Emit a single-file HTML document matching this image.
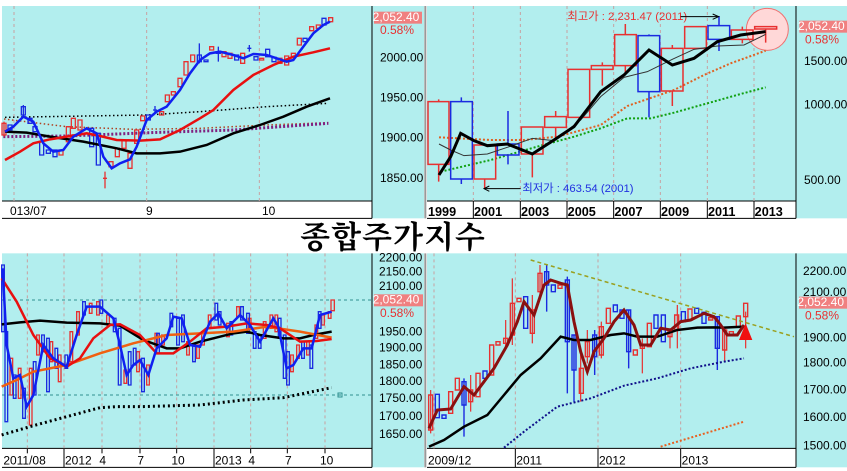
<!DOCTYPE html>
<html><head><meta charset="utf-8"><style>
html,body{margin:0;padding:0;background:#fff;width:847px;height:471px;overflow:hidden}
svg{display:block}
text{font-family:"Liberation Sans",sans-serif}
.ns{vector-effect:non-scaling-stroke;fill:none}
</style></head><body>
<svg width="847" height="471" viewBox="0 0 847 471" xmlns="http://www.w3.org/2000/svg">
<rect width="847" height="471" fill="#fff"/>

<!-- ===== TOP LEFT ===== -->
<g transform="translate(0,0) scale(0.33333)">
<rect x="6" y="18" width="1266" height="637" fill="#b2eeee"/>
<rect x="6" y="603" width="1110" height="52" fill="#fff"/>
<line x1="6" y1="603" x2="1116" y2="603" stroke="#000" class="ns"/>
<line x1="1116" y1="18" x2="1116" y2="655" stroke="#000" class="ns"/>
<line x1="6" y1="655" x2="1116" y2="655" stroke="#000" class="ns"/>
<g stroke="#c8a0a0" stroke-dasharray="3,3" class="ns"><line x1="42" y1="18" x2="42" y2="603" class="ns"/><line x1="440" y1="18" x2="440" y2="603" class="ns"/><line x1="778" y1="18" x2="778" y2="603" class="ns"/></g>
<g font-size="36" fill="#000"><text x="1140" y="184">2000.00</text><text x="1140" y="304">1950.00</text><text x="1140" y="424">1900.00</text><text x="1140" y="546">1850.00</text>
<text x="30" y="645">013/07</text><text x="438" y="645">9</text><text x="786" y="645">10</text></g>
<rect x="1122" y="35" width="144" height="36" fill="#f08080"/>
<text x="1258" y="63" font-size="36" fill="#fff" text-anchor="end">2,052.40</text>
<text x="1242" y="102" font-size="36" fill="#e83030" text-anchor="end">0.58%</text>
<polyline class="ns" stroke="#000" stroke-width="1.5" stroke-dasharray="1.5,2.5" points="15,352 440,345 600,335 800,320 985,310"/>
<polyline class="ns" stroke="#b04020" stroke-width="1.5" stroke-dasharray="1.5,2.5" points="12,357 200,380 400,388 600,385 800,375 985,368"/>
<polyline class="ns" stroke="#802080" stroke-width="3" stroke-dasharray="2,2" points="10,410 200,408 450,398 700,390 985,370"/>
<path class="ns" stroke="#e83030" stroke-width="1.3" fill="#b2eeee" d="M6,370h12v35h-12zM12,365v45M177,450h12v15h-12zM199,380h12v45h-12zM214,355h12v30h-12zM234,360h12v30h-12zM309,535h12M315,515v50M327,485h12v15h-12zM346,445h12v25h-12zM366,420h12v25h-12zM384,460h12v45h-12zM404,390h12v40h-12zM422,348h12v14h-12zM479,335h12v10h-12zM496,285h12v20h-12zM514,275h12v10h-12zM534,235h12v25h-12zM552,185h12v40h-12zM572,165h12v20h-12zM629,140h12v10h-12zM666,155h12v15h-12zM684,160h12v15h-12zM722,160h12v30h-12zM779,175h12v5h-12zM834,175h12v15h-12zM854,168h12v27h-12zM874,160h12v10h-12zM892,115h12v20h-12zM929,80h12v12h-12zM949,75h12v10h-12zM986,53h12v12h-12z"/>
<path class="ns" stroke="#1a2ae0" stroke-width="1.3" fill="#b2eeee" d="M24,375h12v15h-12zM64,320h12v25h-12zM70,315v35M84,355h12v15h-12zM99,380h12v15h-12zM119,425h12v40h-12zM139,450h12v10h-12zM159,450h12v20h-12zM269,385h12v55h-12zM289,400h12v95h-12zM439,345h12v15h-12zM459,330h12M465,318v20M592,165h12v20h-12zM598,130v60M612,180h12v5h-12zM649,155h12v5h-12zM655,140v45M704,165h12v15h-12zM742,145h12M748,135v20M762,170h12v10h-12zM797,148h12v22h-12zM816,172h12v13h-12zM909,115h12v10h-12zM966,55h12v20h-12z"/>
<polyline class="ns" stroke="#000" stroke-width="2.5" points="15,395 80,398 150,410 250,425 350,445 410,460 480,460 540,455 620,435 700,400 780,375 850,350 920,320 990,295"/>
<polyline class="ns" stroke="#e81010" stroke-width="2.5" points="15,480 60,455 100,430 150,418 200,410 260,400 300,408 350,420 420,422 480,418 540,390 600,355 640,330 700,270 760,225 820,195 880,170 940,157 990,145"/>
<polyline class="ns" stroke="#1020f0" stroke-width="2.5" points="15,395 40,380 70,350 100,365 130,430 160,455 190,450 220,410 260,385 290,400 310,470 335,505 360,490 390,478 410,440 440,360 470,335 500,320 540,270 570,220 600,180 630,160 660,155 700,165 730,175 760,162 800,165 830,175 860,185 880,180 910,140 940,100 970,75 990,65"/>
</g>

<!-- ===== TOP RIGHT ===== -->
<g transform="translate(424,0) scale(0.33333)">
<rect x="9" y="18" width="1260" height="637" fill="#b2eeee"/>
<rect x="9" y="603" width="1107" height="52" fill="#fff"/>
<line x1="9" y1="603" x2="1116" y2="603" stroke="#000" class="ns"/>
<line x1="1116" y1="18" x2="1116" y2="655" stroke="#000" class="ns"/>
<line x1="9" y1="655" x2="1116" y2="655" stroke="#000" class="ns"/>
<line x1="4" y1="18" x2="4" y2="655" stroke="#999" class="ns" stroke-width="2"/>
<g stroke="#c8a0a0" stroke-dasharray="3,3"><line class="ns" x1="148" y1="18" x2="148" y2="603"/><line class="ns" x1="289" y1="18" x2="289" y2="603"/><line class="ns" x1="429" y1="18" x2="429" y2="603"/><line class="ns" x1="569" y1="18" x2="569" y2="603"/><line class="ns" x1="709" y1="18" x2="709" y2="603"/><line class="ns" x1="850" y1="18" x2="850" y2="603"/><line class="ns" x1="990" y1="18" x2="990" y2="603"/></g>
<g stroke="#000"><line class="ns" x1="148" y1="603" x2="148" y2="655"/><line class="ns" x1="289" y1="603" x2="289" y2="655"/><line class="ns" x1="429" y1="603" x2="429" y2="655"/><line class="ns" x1="569" y1="603" x2="569" y2="655"/><line class="ns" x1="709" y1="603" x2="709" y2="655"/><line class="ns" x1="850" y1="603" x2="850" y2="655"/><line class="ns" x1="990" y1="603" x2="990" y2="655"/></g>
<g font-size="38" font-weight="bold" fill="#000"><text x="12" y="648">1999</text><text x="150" y="648">2001</text><text x="291" y="648">2003</text><text x="431" y="648">2005</text><text x="571" y="648">2007</text><text x="711" y="648">2009</text><text x="852" y="648">2011</text><text x="992" y="648">2013</text></g>
<g font-size="36" fill="#000"><text x="1140" y="195">1500.00</text><text x="1140" y="326">1000.00</text><text x="1140" y="552">500.00</text></g>
<rect x="1126" y="62" width="143" height="36" fill="#f08080"/>
<text x="1262" y="90" font-size="36" fill="#fff" text-anchor="end">2,052.40</text>
<text x="1245" y="130" font-size="36" fill="#e83030" text-anchor="end">0.58%</text>
<circle cx="1030" cy="88" r="63" fill="#ffd8d8" stroke="#f07070" class="ns" style="fill:#ffd8d8"/>
<polyline class="ns" stroke="#e06020" stroke-width="2" stroke-dasharray="2,2" points="45,412 200,420 300,420 400,410 530,375 610,318 750,270 840,225 920,190 1025,152"/>
<polyline class="ns" stroke="#10a010" stroke-width="2" stroke-dasharray="2,2" points="50,515 200,480 350,437 450,410 530,385 610,355 680,355 750,338 850,310 950,282 1025,262"/>
<path class="ns" stroke="#e83030" stroke-width="1.5" d="M12,305h63v188h-63zM44,298v7M44,493v52M150,435h65v102h-65zM182,537v28M292,381h65v81h-65zM325,462v70M362,350h65v32h-65zM395,333v17M395,382v33M432,208h65v144h-65zM502,197h65v11h-65zM535,187v10M535,208v49M572,104h65v93h-65zM604,72v32M604,197v21M712,145h65v128h-65zM745,135v10M745,273v45M782,80h65v65h-65zM922,90h65v28h-65zM955,80v10M955,118v12M992,80h66v7h-66zM1025,87v41"/>
<path class="ns" stroke="#1a2ae0" stroke-width="1.5" d="M80,305h65v232h-65zM112,292v13M112,537v15M220,432h65v33h-65zM252,333v99M252,465v28M642,107h65v168h-65zM675,103v4M675,275v77M852,77h65v41h-65zM885,48v29M885,118v35"/>
<polyline class="ns" stroke="#333" stroke-width="1" points="45,432 80,450 120,467 190,462 250,442 325,415 390,422 470,360 530,290 600,232 670,215 745,178 810,148 880,138 960,135 1025,103"/>
<polyline class="ns" stroke="#000" stroke-width="3" points="45,525 80,470 110,400 150,422 190,437 250,432 325,462 390,420 450,380 530,275 600,225 675,150 745,195 810,175 880,125 950,105 1025,95"/>
<text x="430" y="60" font-size="34" fill="#e83030" font-family="Liberation Sans, Noto Sans CJK KR, sans-serif">최고가 : 2,231.47 (2011)</text>
<line class="ns" x1="770" y1="50" x2="880" y2="50" stroke="#000"/><path d="M866,42L884,50L866,58" class="ns" stroke="#000"/>
<text x="295" y="576" font-size="34" fill="#2030e0" font-family="Liberation Sans, Noto Sans CJK KR, sans-serif">최저가 : 463.54 (2001)</text>
<line class="ns" x1="290" y1="566" x2="182" y2="566" stroke="#000"/><path d="M196,558L180,566L196,574" class="ns" stroke="#000"/>
</g>

<text x="393" y="248" font-size="31" font-weight="bold" text-anchor="middle" letter-spacing="1" style="font-family:'Noto Serif CJK KR','Noto Serif CJK SC','NanumGothic',serif">종합주가지수</text>

<!-- ===== BOTTOM LEFT ===== -->
<g transform="translate(0,235) scale(0.33333)">
<rect x="6" y="55" width="1266" height="642" fill="#b2eeee"/>
<rect x="6" y="640" width="1110" height="57" fill="#fff"/>
<line x1="6" y1="640" x2="1116" y2="640" stroke="#000" class="ns"/>
<line x1="1116" y1="55" x2="1116" y2="697" stroke="#000" class="ns"/>
<line x1="6" y1="697" x2="1116" y2="697" stroke="#000" class="ns"/>
<g stroke="#c8a0a0" stroke-dasharray="3,3"><line class="ns" x1="82" y1="55" x2="82" y2="640"/><line class="ns" x1="192" y1="55" x2="192" y2="640"/><line class="ns" x1="306" y1="55" x2="306" y2="640"/><line class="ns" x1="420" y1="55" x2="420" y2="640"/><line class="ns" x1="530" y1="55" x2="530" y2="640"/><line class="ns" x1="642" y1="55" x2="642" y2="640"/><line class="ns" x1="752" y1="55" x2="752" y2="640"/><line class="ns" x1="862" y1="55" x2="862" y2="640"/><line class="ns" x1="975" y1="55" x2="975" y2="640"/></g>
<g stroke="#000"><line class="ns" x1="192" y1="640" x2="192" y2="697"/><line class="ns" x1="642" y1="640" x2="642" y2="697"/><line class="ns" x1="82" y1="640" x2="82" y2="655"/><line class="ns" x1="306" y1="640" x2="306" y2="655"/><line class="ns" x1="420" y1="640" x2="420" y2="655"/><line class="ns" x1="530" y1="640" x2="530" y2="655"/><line class="ns" x1="752" y1="640" x2="752" y2="655"/><line class="ns" x1="862" y1="640" x2="862" y2="655"/><line class="ns" x1="975" y1="640" x2="975" y2="655"/></g>
<g font-size="36" fill="#000"><text x="10" y="688">2011/08</text><text x="195" y="688">2012</text><text x="298" y="688">4</text><text x="412" y="688">7</text><text x="514" y="688">10</text><text x="645" y="688">2013</text><text x="745" y="688">4</text><text x="855" y="688">7</text><text x="960" y="688">10</text></g>
<g font-size="36" fill="#000"><text x="1137" y="80">2200.00</text><text x="1137" y="122">2150.00</text><text x="1137" y="165">2100.00</text><text x="1137" y="302">1950.00</text><text x="1137" y="349">1900.00</text><text x="1137" y="400">1850.00</text><text x="1137" y="450">1800.00</text><text x="1137" y="501">1750.00</text><text x="1137" y="555">1700.00</text><text x="1137" y="609">1650.00</text></g>
<rect x="1122" y="178" width="147" height="36" fill="#f08080"/>
<text x="1258" y="206" font-size="36" fill="#fff" text-anchor="end">2,052.40</text>
<text x="1242" y="246" font-size="36" fill="#e83030" text-anchor="end">0.58%</text>
<line class="ns" x1="6" y1="195" x2="1116" y2="195" stroke="#309090" stroke-dasharray="3,3"/>
<line class="ns" x1="6" y1="480" x2="1116" y2="480" stroke="#309090" stroke-dasharray="3,3"/>
<rect x="1014" y="474" width="12" height="12" fill="none" stroke="#309090" class="ns"/>
<path class="ns" stroke="#e83030" stroke-width="1.3" fill="#f0a0a0" d="M30,370h8v110h-8zM55,400h8v90h-8zM88,400h8v170h-8zM110,300h8v60h-8zM150,320h8v60h-8zM175,360h8v80h-8zM210,290h8v90h-8zM230,230h8v70h-8zM268,205h8v30h-8zM290,200h8v40h-8zM320,240h8v30h-8zM372,405h8v40h-8zM410,350h8v60h-8zM440,390h8v60h-8zM465,295h8v40h-8zM485,300h8v30h-8zM560,320h8v40h-8zM590,330h8v40h-8zM605,290h8v40h-8zM625,240h8v40h-8zM680,265h8v40h-8zM710,215h8v30h-8zM745,250h8v30h-8zM790,260h8v50h-8zM810,240h8v40h-8zM825,240h8v50h-8zM872,360h8v50h-8zM890,330h8v40h-8zM920,320h8v40h-8zM945,270h8v40h-8zM965,240h8v30h-8zM985,230h8v20h-8zM993,195h10v32h-10z"/>
<path class="ns" stroke="#1a2ae0" stroke-width="1.3" fill="#8090f0" d="M5,90h8v200h-8zM15,290h8v270h-8zM40,420h8v70h-8zM68,460h8v90h-8zM100,380h8v100h-8zM125,300h8v50h-8zM140,310h8v160h-8zM165,340h8v60h-8zM195,360h8v40h-8zM248,200h8v40h-8zM300,195h8v40h-8zM340,250h8v40h-8zM355,280h8v170h-8zM385,350h8v100h-8zM400,340h8v50h-8zM425,370h8v100h-8zM470,295h8v60h-8zM510,235h8v40h-8zM530,250h8v80h-8zM545,240h8v80h-8zM578,330h8v50h-8zM645,205h8v50h-8zM655,230h8v40h-8zM690,260h8v40h-8zM722,215h8v40h-8zM740,235h8v60h-8zM760,290h8v50h-8zM775,300h8v40h-8zM835,250h8v60h-8zM850,300h8v130h-8zM860,350h8v100h-8zM905,320h8v50h-8zM930,330h8v70h-8zM955,230h8v50h-8z"/>
<polyline class="ns" stroke="#000" stroke-width="3" stroke-dasharray="2,3" points="5,600 100,572 200,545 300,518 350,515 420,515 600,510 730,495 850,488 995,458"/>
<polyline class="ns" stroke="#000" stroke-width="2.5" points="5,268 60,262 120,257 200,263 300,265 360,272 430,315 500,340 540,340 600,320 700,295 740,290 780,300 850,310 900,310 940,300 995,290"/>
<polyline class="ns" stroke="#f06010" stroke-width="2.5" points="5,455 50,435 100,410 200,390 300,355 400,325 500,300 600,295 700,290 800,275 900,290 995,308"/>
<polyline class="ns" stroke="#e81010" stroke-width="2.5" points="5,130 50,200 100,300 150,370 200,395 240,370 280,310 330,270 360,268 420,300 470,355 520,355 570,320 620,280 680,275 740,265 800,270 840,280 900,320 950,318 995,312"/>
<polyline class="ns" stroke="#1020f0" stroke-width="2.5" points="8,100 20,330 40,430 60,420 80,515 100,480 130,330 160,370 200,395 230,300 260,215 300,215 340,250 360,330 380,420 400,390 420,375 445,420 470,340 500,310 520,245 545,250 570,330 600,335 630,260 655,235 680,280 720,240 750,270 780,320 820,250 835,275 860,400 880,390 910,340 935,340 960,240 995,230"/>
</g>

<!-- ===== BOTTOM RIGHT ===== -->
<g transform="translate(424,235) scale(0.33333)">
<rect x="9" y="55" width="1260" height="642" fill="#b2eeee"/>
<rect x="9" y="640" width="1107" height="57" fill="#fff"/>
<line x1="9" y1="640" x2="1116" y2="640" stroke="#000" class="ns"/>
<line x1="1116" y1="55" x2="1116" y2="697" stroke="#000" class="ns"/>
<line x1="9" y1="697" x2="1116" y2="697" stroke="#000" class="ns"/>
<line x1="4" y1="55" x2="4" y2="697" stroke="#999" class="ns" stroke-width="2"/>
<g stroke="#c8a0a0" stroke-dasharray="3,3"><line class="ns" x1="30" y1="55" x2="30" y2="640"/><line class="ns" x1="274" y1="55" x2="274" y2="640"/><line class="ns" x1="522" y1="55" x2="522" y2="640"/><line class="ns" x1="770" y1="55" x2="770" y2="640"/></g>
<g stroke="#000"><line class="ns" x1="274" y1="640" x2="274" y2="697"/><line class="ns" x1="522" y1="640" x2="522" y2="697"/><line class="ns" x1="770" y1="640" x2="770" y2="697"/></g>
<g font-size="36" fill="#000"><text x="12" y="688">2009/12</text><text x="277" y="688">2011</text><text x="525" y="688">2012</text><text x="773" y="688">2013</text></g>
<g font-size="36" fill="#000"><text x="1137" y="120">2200.00</text><text x="1137" y="183">2100.00</text><text x="1137" y="320">1900.00</text><text x="1137" y="395">1800.00</text><text x="1137" y="475">1700.00</text><text x="1137" y="558">1600.00</text><text x="1137" y="643">1500.00</text></g>
<rect x="1125" y="185" width="144" height="36" fill="#f08080"/>
<text x="1260" y="213" font-size="36" fill="#fff" text-anchor="end">2,052.40</text>
<text x="1245" y="253" font-size="36" fill="#e83030" text-anchor="end">0.58%</text>
<path class="ns" stroke="#e83030" stroke-width="1.4" fill="#b2eeee" d="M14,480h12v105h-12zM74,470h12v65h-12zM94,430h12v35h-12zM134,465h12v35h-12zM156,415h12v70h-12zM197,330h12v90h-12zM216,320h12v10h-12zM239,310h12v15h-12zM259,205h12v95h-12zM279,190h12v10h-12zM319,225h12v70h-12zM342,115h12v55h-12zM402,150h12v10h-12zM466,400h12v75h-12zM484,320h12v45h-12zM526,275h12v85h-12zM547,220h12v45h-12zM628,345h12v15h-12zM649,330h12v10h-12zM670,265h12v70h-12zM732,285h12v20h-12zM752,240h12v45h-12zM792,222h12v33h-12zM854,248h12v7h-12zM896,285h12v60h-12zM916,290h12v10h-12zM937,243h12v32h-12zM959,205h12v40h-12z"/>
<path class="ns" stroke="#1a2ae0" stroke-width="1.4" fill="#b2eeee" d="M34,478h12v70h-12zM54,540h12v10h-12zM114,440h12v70h-12zM120,430v175M177,408h12v22h-12zM299,185h12v95h-12zM362,110h12v40h-12zM368,90v140M382,150h12v20h-12zM424,135h12v185h-12zM430,125v350M444,300h12v105h-12zM450,300v200M506,300h12v65h-12zM512,285v135M568,210h12v20h-12zM588,225h12v25h-12zM608,225h12v125h-12zM614,225v175M690,240h12v40h-12zM712,240h12v80h-12zM772,230h12v30h-12zM812,220h12v15h-12zM834,232h12v33h-12zM874,245h12v95h-12zM880,245v160"/>
<path class="ns" stroke="#e83030" stroke-width="1.2" d="M20,465v130M140,420v110M245,255v85M265,130v200M325,180v145M348,90v90M470,360v140M490,285v100M532,260v110M655,310v105M738,280v60M760,210v130M902,280v100M965,230v110"/>
<line class="ns" x1="320" y1="75" x2="1110" y2="305" stroke="#9aa020" stroke-width="1.5" stroke-dasharray="4,3"/>
<polyline class="ns" stroke="#e86020" stroke-width="2" stroke-dasharray="2,2" points="710,635 960,560"/>
<polyline class="ns" stroke="#10108a" stroke-width="2" stroke-dasharray="2,2" points="240,638 300,590 400,515 500,490 600,452 700,430 800,400 900,380 960,370"/>
<polyline class="ns" stroke="#000" stroke-width="2.5" points="15,635 60,615 120,575 190,540 240,480 290,420 350,370 410,305 450,315 500,315 560,300 600,295 640,305 700,305 760,285 820,278 870,277 900,278 960,275"/>
<polyline class="ns" stroke="#8a1010" stroke-width="3" points="15,580 40,525 80,522 120,455 150,480 180,440 210,400 250,330 280,260 300,200 330,240 360,150 380,135 410,145 430,150 450,260 470,350 490,410 510,350 540,310 570,260 600,225 630,270 650,330 680,330 710,280 740,285 770,260 800,255 840,235 870,245 890,270 910,300 940,300 960,270"/>
<polygon points="965,265 985,315 945,315" fill="#f01010"/>
</g>
</svg>
</body></html>
